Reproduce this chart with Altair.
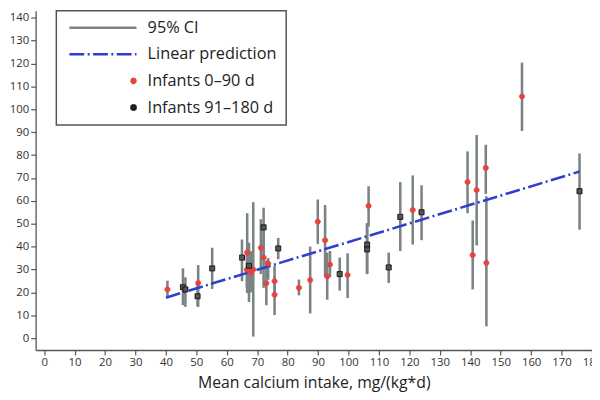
import altair as alt
import pandas as pd

# ---- data ----
red_x  = [40.5, 50.6, 66.6, 66.7, 68.0, 68.7, 71.2, 72.1, 73.6, 73.0, 75.7, 75.7, 83.7, 87.4,
          89.9, 92.3, 93.9, 93.0, 99.7, 106.6, 121.1, 139.1, 140.8, 142.1, 145.1, 145.3, 157.0]
red_y  = [21.3, 24.1, 29.9, 37.4, 28.7, 30.0, 39.5, 35.2, 32.6, 24.0, 24.9, 19.0, 22.0, 25.4,
          50.9, 42.8, 32.2, 27.0, 27.6, 57.8, 56.0, 68.2, 36.3, 64.7, 74.4, 32.9, 105.6]
red_lo = [18.3, 13.7, 22.0, 19.7, 20.0, 0.7, 28.0, 22.0, 25.5, 14.4, 18.0, 10.1, 18.7, 10.8,
          41.2, 27.0, 26.6, 16.8, 17.5, 48.8, 40.9, 54.6, 21.3, 40.5, 63.0, 5.2, 90.5]
red_hi = [25.1, 31.9, 38.0, 54.6, 38.0, 59.4, 52.0, 50.0, 35.0, 34.0, 31.6, 27.0, 25.6, 40.0,
          60.6, 58.2, 38.1, 37.4, 37.1, 66.4, 71.1, 81.6, 51.4, 88.8, 84.5, 62.0, 120.4]

blk_x  = [45.6, 46.4, 50.4, 55.2, 65.0, 67.3, 72.1, 76.9, 97.1, 106.1, 106.1, 113.2, 117.0, 124.0, 175.9]
blk_y  = [22.3, 21.3, 18.3, 30.5, 35.2, 31.6, 48.4, 39.2, 28.0, 40.9, 38.8, 30.9, 53.0, 55.0, 64.2]
blk_lo = [14.4, 13.7, 13.8, 21.5, 24.9, 15.8, 34.0, 34.5, 20.8, 28.0, 28.0, 24.1, 38.1, 42.8, 47.4]
blk_hi = [30.5, 26.6, 24.0, 39.5, 43.1, 41.7, 57.0, 43.8, 35.2, 50.3, 50.3, 37.4, 68.2, 66.8, 80.7]

pred_x = [40.0, 175.9]
pred_y = [17.7, 72.8]

series = ["95% CI", "Linear prediction", "Infants 0\u201390 d", "Infants 91\u2013180 d"]
x_ticks = list(range(0, 181, 10))
y_ticks = list(range(0, 141, 10))

# ---- tables ----
pts = pd.concat([
    pd.DataFrame({"x": red_x, "y": red_y, "lo": red_lo, "hi": red_hi, "series": series[2]}),
    pd.DataFrame({"x": blk_x, "y": blk_y, "lo": blk_lo, "hi": blk_hi, "series": series[3]}),
], ignore_index=True)
pred = pd.DataFrame({"x": pred_x, "y": pred_y})

GRAY = "#7b8484"
BLUE = "#2f3fd0"
RED = "#e6433d"

xs = alt.Scale(domain=[-2.81, 180], nice=False, zero=False)
ys = alt.Scale(domain=[-5.17, 143.1], nice=False, zero=False)

def xax():
    return alt.Axis(values=x_ticks, tickCount=19, title="Mean calcium intake, mg/(kg*d)", labelPadding=2,
                    titlePadding=7, labelFlush=False, labelOverlap=False)

def yax():
    return alt.Axis(values=y_ticks, tickCount=15, title=None, labelPadding=2, labelOverlap=False)

LINE_PATH = "M-32.5,0H1.5"

def leg():
    return alt.Legend(title=None, orient="none", legendX=21, legendY=0,
                      padding=9, rowPadding=10, symbolOffset=61, labelOffset=6,
                      symbolSize=16, symbolStrokeWidth=2.5,
                      labelFont="Open Sans", labelFontSize=16.5, labelColor="#222",
                      strokeColor="#555", fillColor="white")

rules = alt.Chart(pts).mark_rule(color=GRAY, strokeWidth=2.6).encode(
    x=alt.X("x:Q", scale=xs, axis=xax()),
    y=alt.Y("lo:Q", scale=ys, axis=yax()),
    y2="hi:Q",
)

line = alt.Chart(pred).mark_line(color=BLUE, strokeWidth=2.6, strokeDash=[15, 3.5, 2, 3.5]).encode(
    x=alt.X("x:Q", scale=xs, axis=xax()),
    y=alt.Y("y:Q", scale=ys, axis=yax()),
)

points = alt.Chart(pts).mark_point(filled=True, size=26, strokeWidth=1, opacity=1).encode(
    x=alt.X("x:Q", scale=xs, axis=xax()),
    y=alt.Y("y:Q", scale=ys, axis=yax()),
    fill=alt.Fill("series:N", scale=alt.Scale(domain=series, range=[GRAY, BLUE, RED, "#555555"]), legend=leg()),
    stroke=alt.Stroke("series:N", scale=alt.Scale(domain=series, range=[GRAY, BLUE, RED, "#111111"]), legend=leg()),
    shape=alt.Shape("series:N", scale=alt.Scale(domain=series, range=[LINE_PATH, LINE_PATH, "circle", "square"]), legend=leg()),
    strokeDash=alt.StrokeDash("series:N", scale=alt.Scale(domain=series, range=[[1, 0], [15, 3.5, 2, 3.5], [1, 0], [1, 0]]), legend=leg()),
)

chart = alt.layer(rules, line, points).properties(
    width=564, height=344,
    autosize=alt.AutoSizeParams(type="none"),
    padding={"left": 28, "top": 0, "right": 0, "bottom": 48},
).configure_view(strokeWidth=0).configure_axis(
    labelFont="Open Sans", labelFontSize=11.5, labelColor="#333",
    tickColor="#555", domainColor="#555", tickSize=5, tickWidth=1.2, domainWidth=1.3,
    grid=False, titleFont="Open Sans", titleFontSize=16, titleFontWeight="normal", titleColor="#222",
).configure_legend(strokeWidth=1.5)

chart.save("out.html", embed_options={"renderer": "svg", "actions": False})
